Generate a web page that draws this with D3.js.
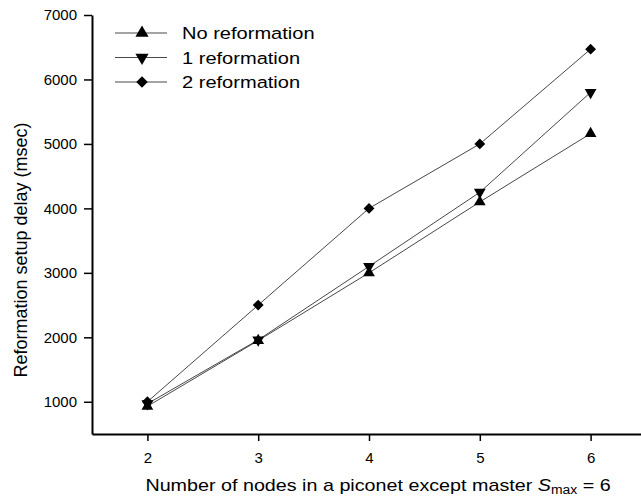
<!DOCTYPE html>
<html>
<head>
<meta charset="utf-8">
<script src="https://cdn.jsdelivr.net/npm/d3@7"></script>
<style>
  body { margin: 0; background: #fff; }
  text { font-family: "Liberation Sans", Arial, sans-serif; fill: #000; }
</style>
</head>
<body>
<div id="chart"></div>
<script>
// data
var nodes = [2, 3, 4, 5, 6];
var noReformation = [930, 1950, 3000, 4100, 5160];
var oneReformation = [970, 1960, 3100, 4250, 5800];
var twoReformation = [1000, 2500, 4000, 5000, 6470];
var yTicks = [1000, 2000, 3000, 4000, 5000, 6000, 7000];
var seriesNames = ["No reformation", "1 reformation", "2 reformation"];

var series = [
  { name: seriesNames[0], values: noReformation, symbol: d3.symbolTriangle, rot: 0 },
  { name: seriesNames[1], values: oneReformation, symbol: d3.symbolTriangle, rot: 180 },
  { name: seriesNames[2], values: twoReformation, symbol: d3.symbolDiamond2, rot: 0 }
];

var width = 641, height = 499;

var svg = d3.select("#chart")
  .append("svg")
  .attr("width", width)
  .attr("height", height);

var x = d3.scaleLinear().domain([1.5, 6.5]).range([92, 646]);
var y = d3.scaleLinear().domain([500, 7000]).range([434, 15]);

// axes
var yAxis = svg.append("g")
  .attr("transform", "translate(" + x(1.5) + ",0)")
  .call(d3.axisLeft(y).tickValues(yTicks).tickFormat(d3.format("d"))
    .tickSize(8).tickSizeOuter(0).tickPadding(7));
var xAxis = svg.append("g")
  .attr("transform", "translate(0," + y(500) + ")")
  .call(d3.axisBottom(x).tickValues(nodes).tickFormat(d3.format("d"))
    .tickSize(7).tickSizeOuter(0).tickPadding(11));

[xAxis, yAxis].forEach(function (g) {
  g.select(".domain").attr("stroke", "#000").attr("stroke-width", 2);
  g.selectAll(".tick line").attr("stroke", "#000").attr("stroke-width", 1.5);
  g.selectAll(".tick text")
    .style("font-family", "'Liberation Sans', Arial, sans-serif")
    .style("font-size", "15px")
    .attr("fill", "#000");
});

// lines and markers
var line = d3.line()
  .x(function (d, i) { return x(nodes[i]); })
  .y(function (d) { return y(d); });

series.forEach(function (s) {
  svg.append("path")
    .datum(s.values)
    .attr("fill", "none")
    .attr("stroke", "#333")
    .attr("stroke-width", 0.9)
    .attr("d", line);
});

series.forEach(function (s) {
  svg.append("g")
    .selectAll("path")
    .data(s.values)
    .enter()
    .append("path")
    .attr("d", d3.symbol().type(s.symbol).size(s.symbol === d3.symbolDiamond2 ? 75 : 60))
    .attr("transform", function (d, i) {
      return "translate(" + x(nodes[i]) + "," + y(d) + ") rotate(" + s.rot + ")";
    })
    .attr("fill", "#000");
});

// legend
var legend = svg.append("g").attr("transform", "translate(115,33)");
series.forEach(function (s, i) {
  var row = legend.append("g").attr("transform", "translate(0," + (i * 24.5) + ")");
  row.append("line")
    .attr("x1", 0).attr("x2", 52)
    .attr("stroke", "#333").attr("stroke-width", 0.9);
  row.append("path")
    .attr("d", d3.symbol().type(s.symbol).size(s.symbol === d3.symbolDiamond2 ? 85 : 75))
    .attr("transform", "translate(27,0) rotate(" + s.rot + ")")
    .attr("fill", "#000");
  row.append("text")
    .attr("transform", "translate(67,6) scale(1.18,1)")
    .style("font-size", "17px")
    .text(s.name);
});

// axis titles
svg.append("text")
  .attr("transform", "translate(27,250) rotate(-90)")
  .attr("text-anchor", "middle")
  .style("font-size", "18px")
  .text("Reformation setup delay (msec)");

var xt = svg.append("text")
  .attr("transform", "translate(378,491) scale(1.16,1)")
  .attr("text-anchor", "middle")
  .style("font-size", "17px");
xt.append("tspan").text("Number of nodes in a piconet except master ");
xt.append("tspan").attr("font-style", "italic").text("S");
xt.append("tspan").attr("font-size", "12px").attr("dy", 3).text("max");
xt.append("tspan").attr("dy", -3).text(" = 6");
</script>
</body>
</html>
